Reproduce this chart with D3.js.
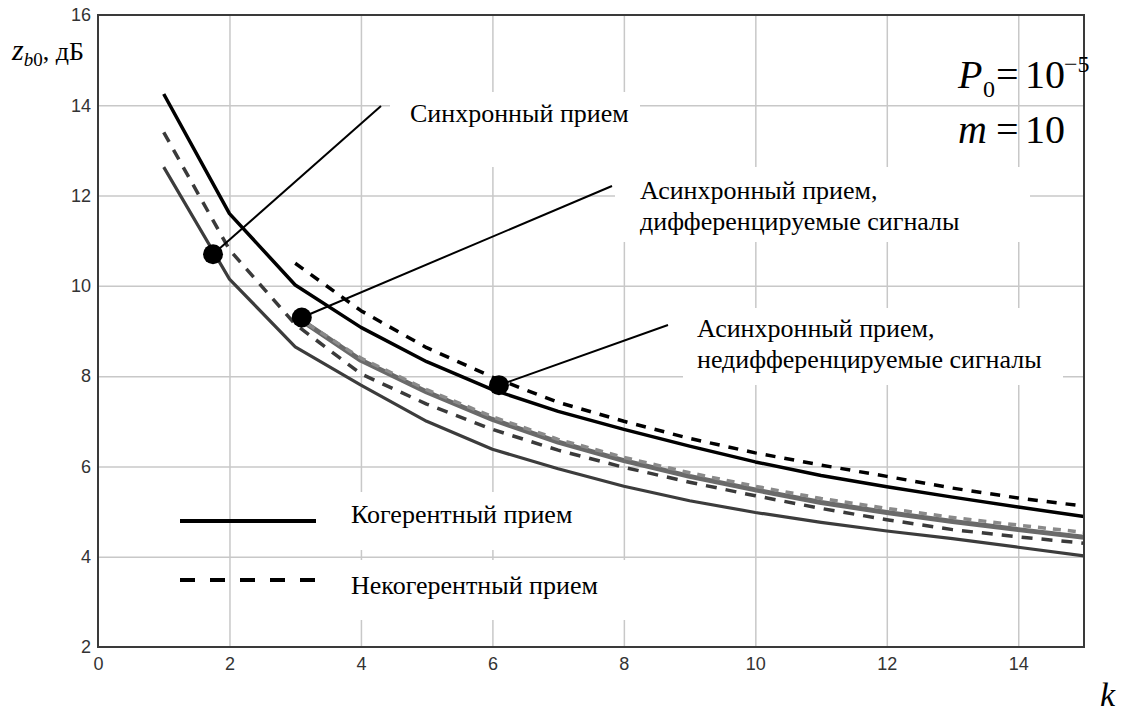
<!DOCTYPE html>
<html>
<head>
<meta charset="utf-8">
<script src="https://cdn.jsdelivr.net/npm/d3@7"></script>
<style>
  body { margin: 0; background: #fff; }
  svg { display: block; }
  .lbl text { font-family: "Liberation Sans", Arial, sans-serif; font-size: 18px; fill: #333; }
  .grid line { stroke: #c8c8c8; stroke-width: 1.5px; }
</style>
</head>
<body>
<svg id="chart" width="1136" height="713"></svg>
<script>
var width = 1136,
    height = 713;

var plot = {left: 98, right: 1084, top: 15, bottom: 647};
var serif = "'Liberation Serif', serif";

// k values
var kSync = [1, 2, 3, 4, 5, 6, 7, 8, 9, 10, 11, 12, 13, 14, 15];
var kAsync = [3, 4, 5, 6, 7, 8, 9, 10, 11, 12, 13, 14, 15];

// z_b0, dB
var nondiffCoh   = [14.25, 11.6, 10.02, 9.08, 8.32, 7.7, 7.22, 6.82, 6.45, 6.1, 5.8, 5.55, 5.32, 5.1, 4.89];
var nondiffNonco = [10.5, 9.45, 8.63, 7.98, 7.42, 7.0, 6.62, 6.3, 6.03, 5.78, 5.52, 5.3, 5.12];
var syncNonco    = [13.4, 10.8, 9.15, 8.05, 7.38, 6.82, 6.36, 5.98, 5.65, 5.35, 5.07, 4.82, 4.6, 4.44, 4.3];
var syncCoh      = [12.63, 10.15, 8.65, 7.8, 7.0, 6.38, 5.95, 5.56, 5.24, 4.98, 4.76, 4.57, 4.4, 4.21, 4.02];
var diffCoh      = [9.33, 8.35, 7.65, 7.04, 6.54, 6.13, 5.78, 5.48, 5.2, 4.98, 4.78, 4.6, 4.43];
var diffNonco    = [9.33, 8.4, 7.7, 7.1, 6.6, 6.2, 5.86, 5.56, 5.29, 5.07, 4.87, 4.7, 4.54];

var xTicks = [0, 2, 4, 6, 8, 10, 12, 14];
var yTicks = [2, 4, 6, 8, 10, 12, 14, 16];

// markers for the callouts: [k, z]
var markers = [[1.75, 10.7], [3.1, 9.3], [6.1, 7.8]];

var svg = d3.select("#chart");

var x = d3.scaleLinear().domain([0, 15]).range([plot.left, plot.right]);
var y = d3.scaleLinear().domain([2, 16]).range([plot.bottom, plot.top]);

// grid
svg.append("g")
    .attr("class", "grid")
    .attr("transform", "translate(0," + plot.bottom + ")")
    .call(d3.axisBottom(x).tickValues(xTicks.slice(1)).tickSizeInner(-(plot.bottom - plot.top)).tickSizeOuter(0).tickFormat(""))
    .call(function(g) { g.select(".domain").remove(); });

svg.append("g")
    .attr("class", "grid")
    .attr("transform", "translate(" + plot.left + ",0)")
    .call(d3.axisLeft(y).tickValues(yTicks.slice(1, -1)).tickSizeInner(-(plot.right - plot.left)).tickSizeOuter(0).tickFormat(""))
    .call(function(g) { g.select(".domain").remove(); });

// tick labels
svg.append("g")
    .attr("class", "lbl")
    .attr("transform", "translate(0," + plot.bottom + ")")
    .call(d3.axisBottom(x).tickValues(xTicks).tickSize(0).tickPadding(10))
    .call(function(g) { g.select(".domain").remove(); });

svg.append("g")
    .attr("class", "lbl")
    .attr("transform", "translate(" + plot.left + ",0)")
    .call(d3.axisLeft(y).tickValues(yTicks).tickSize(0).tickPadding(7))
    .call(function(g) { g.select(".domain").remove(); });

// white text boxes (they hide the grid like the original)
var boxes = [[327, 492, 280, 58], [327, 560, 306, 60], [390, 92, 250, 75], [615, 167, 415, 75], [683, 308, 380, 77]];
svg.append("g").selectAll("rect")
    .data(boxes)
    .enter().append("rect")
    .attr("x", function(d) { return d[0]; })
    .attr("y", function(d) { return d[1]; })
    .attr("width", function(d) { return d[2]; })
    .attr("height", function(d) { return d[3]; })
    .attr("fill", "#fff");

svg.append("clipPath").attr("id", "clip")
  .append("rect")
    .attr("x", plot.left).attr("y", plot.top)
    .attr("width", plot.right - plot.left).attr("height", plot.bottom - plot.top);

var line = d3.line()
    .x(function(d) { return x(d[0]); })
    .y(function(d) { return y(d[1]); });

var series = [
  {k: kSync,  z: syncCoh,      color: "#3c3c3c", w: 3.2, dash: null},
  {k: kSync,  z: syncNonco,    color: "#3a3a3a", w: 3.5, dash: "11,9"},
  {k: kAsync, z: diffCoh,      color: "#6a6a6a", w: 5,   dash: null},
  {k: kAsync, z: diffNonco,    color: "#8a8a8a", w: 3.5, dash: "8,7"},
  {k: kSync,  z: nondiffCoh,   color: "#000",    w: 3.5, dash: null},
  {k: kAsync, z: nondiffNonco, color: "#000",    w: 3.5, dash: "10,9"}
];

var curves = svg.append("g").attr("clip-path", "url(#clip)");
curves.selectAll("path")
    .data(series)
    .enter().append("path")
    .attr("d", function(s) { return line(d3.zip(s.k, s.z)); })
    .attr("fill", "none")
    .attr("stroke", function(s) { return s.color; })
    .attr("stroke-width", function(s) { return s.w; })
    .attr("stroke-dasharray", function(s) { return s.dash; })
    .attr("stroke-linejoin", "round");

// frame
svg.append("rect")
    .attr("x", plot.left).attr("y", plot.top)
    .attr("width", plot.right - plot.left).attr("height", plot.bottom - plot.top)
    .attr("fill", "none")
    .attr("stroke", "#3a3a3a")
    .attr("stroke-width", 2);

// callouts
var callEnds = [[381, 106], [612, 186], [668, 325]];
svg.append("g").selectAll("line")
    .data(markers)
    .enter().append("line")
    .attr("x1", function(d) { return x(d[0]); })
    .attr("y1", function(d) { return y(d[1]); })
    .attr("x2", function(d, i) { return callEnds[i][0]; })
    .attr("y2", function(d, i) { return callEnds[i][1]; })
    .attr("stroke", "#000")
    .attr("stroke-width", 2);

svg.append("g").selectAll("circle")
    .data(markers)
    .enter().append("circle")
    .attr("cx", function(d) { return x(d[0]); })
    .attr("cy", function(d) { return y(d[1]); })
    .attr("r", 10)
    .attr("fill", "#000");

var notes = [
  ["Синхронный прием", 410, 122],
  ["Асинхронный прием,", 640, 199],
  ["дифференцируемые сигналы", 640, 230],
  ["Асинхронный прием,", 697, 337],
  ["недифференцируемые сигналы", 697, 368],
  ["Когерентный прием", 351, 523],
  ["Некогерентный прием", 351, 594]
];
svg.append("g").selectAll("text")
    .data(notes)
    .enter().append("text")
    .style("font-family", serif)
    .style("font-size", "26px")
    .attr("x", function(d) { return d[1]; })
    .attr("y", function(d) { return d[2]; })
    .text(function(d) { return d[0]; });

// legend samples
svg.append("line")
    .attr("x1", 180).attr("x2", 316).attr("y1", 521).attr("y2", 521)
    .attr("stroke", "#000").attr("stroke-width", 4);
svg.append("line")
    .attr("x1", 180).attr("x2", 316).attr("y1", 580).attr("y2", 580)
    .attr("stroke", "#000").attr("stroke-width", 4).attr("stroke-dasharray", "15,15");

// axis captions
var yCap = svg.append("text").style("font-family", serif).attr("x", 12).attr("y", 60);
yCap.append("tspan").style("font-style", "italic").style("font-size", "30px").text("z");
yCap.append("tspan").attr("dy", 6).style("font-style", "italic").style("font-size", "19px").text("b");
yCap.append("tspan").style("font-size", "19px").text("0");
yCap.append("tspan").attr("dy", -6).style("font-size", "26px").text(", дБ");

svg.append("text").style("font-family", serif).attr("x", 1100).attr("y", 706)
    .style("font-style", "italic").style("font-size", "34px").text("k");

// parameters
function param(txt, px, py, size, italic) {
  svg.append("text").style("font-family", serif)
      .attr("x", px).attr("y", py)
      .style("font-size", size + "px")
      .style("font-style", italic ? "italic" : "normal")
      .text(txt);
}
param("P", 958, 88, 40, true);
param("0", 983, 97, 24, false);
param("=", 996, 88, 40, false);
param("10", 1025, 88, 40, false);
param("−5", 1064, 72, 24, false);
param("m", 958, 143, 40, true);
param("=", 996, 143, 40, false);
param("10", 1025, 143, 40, false);
</script>
</body>
</html>
